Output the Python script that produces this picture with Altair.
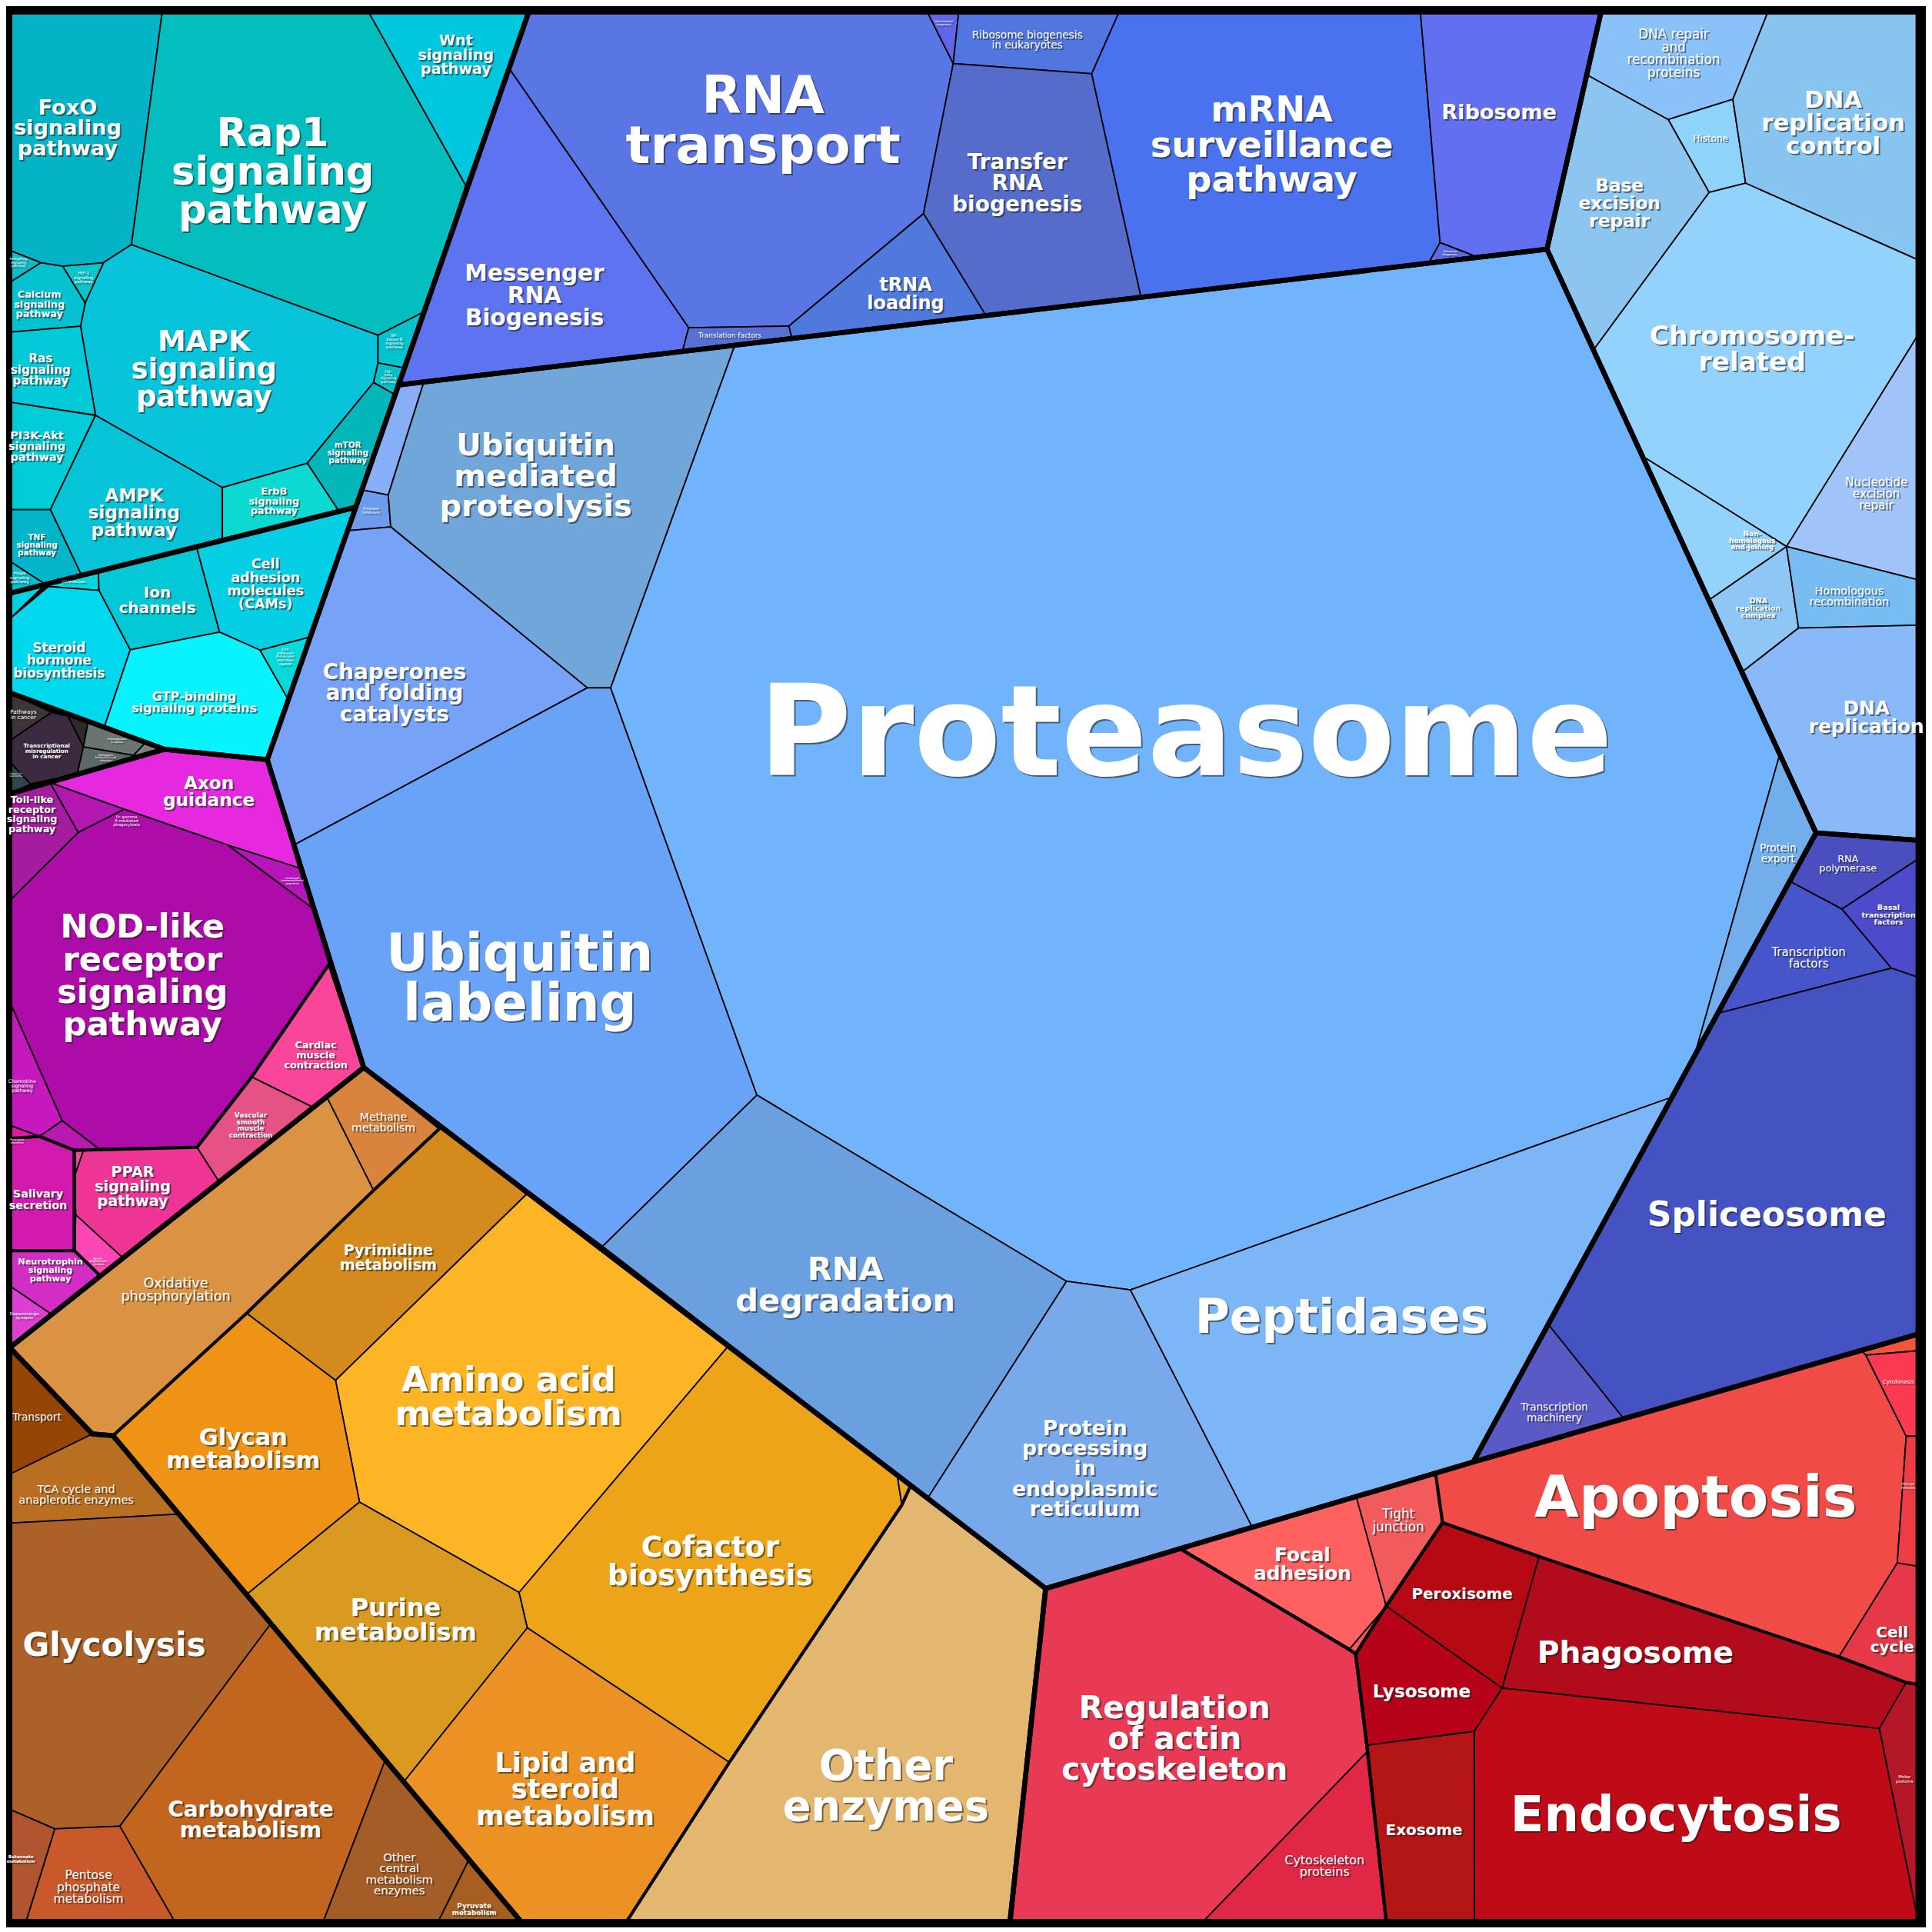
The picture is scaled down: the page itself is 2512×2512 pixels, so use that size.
import altair as alt
import pandas as pd

# ---------------- domain (reference picture coordinates, 1568-px view) ----------------
DOM = [5, 1563]
PX = 2496
S = PX / (DOM[1] - DOM[0])

# ---------------- cells: (name, polygon vertices) ----------------
GREEN_UPPER = [
    ("FoxO signaling pathway", [(8,7),(132,7),(107,196.3),(84.2,211),(50.9,213.8),(33.4,211),(8,201)]),
    ("Rap1 signaling pathway", [(132,7),(300,7),(379,148),(345,251),(307.6,270),(107,196.3)]),
    ("Wnt signaling pathway", [(300,7),(430.3,7),(379,148)]),
    ("MAPK signaling pathway", [(84.2,211),(107,196.3),(307.6,270),(307.6,292.6),(304,308.5),(250,374.2),(181,394),(77.7,335.2),(65.6,262.7),(69.3,243.6)]),
    ("NF-kappa B signaling pathway", [(307.6,270),(345,251),(329,296.6),(307.6,292.6)]),
    ("TGF-beta signaling pathway", [(307.6,292.6),(329,296.6),(321.7,318.5),(304,308.5)]),
    ("mTOR signaling pathway", [(304,308.5),(321.7,318.5),(289.5,410),(275.6,413),(250,374.2)]),
    ("HIF-1 signaling pathway", [(50.9,213.8),(84.2,211),(69.3,243.6)]),
    ("Hedgehog signaling pathway", [(8,201),(33.4,211),(8,227)]),
    ("Calcium signaling pathway", [(8,227),(33.4,211),(50.9,213.8),(69.3,243.6),(65.6,262.7),(8,267.5)]),
    ("Ras signaling pathway", [(8,267.5),(65.6,262.7),(77.7,335.2),(8,324.5)]),
    ("PI3K-Akt signaling pathway", [(8,324.5),(77.7,335.2),(41,412),(8,412)]),
    ("AMPK signaling pathway", [(77.7,335.2),(181,394),(181,436.9),(66.4,465.5),(41,412)]),
    ("ErbB signaling pathway", [(181,394),(250,374.2),(275.6,413),(181,436.9)]),
    ("TNF signaling pathway", [(8,412),(41,412),(66.4,465.5),(36.8,472.8),(8,454)]),
    ("Hippo signaling pathway", [(8,454),(36.8,472.8),(8,480)]),
]
GREEN_LOWER = [
    ("Green small", [(8,480),(37,472.8),(8,500.8)]),
    ("CD Molecules", [(37,472.8),(80,462.1),(80.6,477.7),(39.6,474.5)]),
    ("Steroid hormone biosynthesis", [(8,500.8),(39.6,474.5),(80.6,477.7),(106,526),(85.2,588),(8,561)]),
    ("Ion channels", [(80,462.1),(159.7,441.5),(178.7,511.6),(106,526),(80.6,477.7)]),
    ("Cell adhesion molecules (CAMs)", [(159.7,441.5),(289.5,410),(252.8,515.5),(211.5,526.3),(178.7,511.6)]),
    ("CAM ligands", [(211.5,526.3),(252.8,515.5),(234.8,567)]),
    ("GTP-binding signaling proteins", [(106,526),(178.7,511.6),(211.5,526.3),(234.8,567),(217.5,615.5),(134,607),(85.2,588)]),
]
GRAY = [
    ("Pathways in cancer", [(8,561),(42,577),(8,600)]),
    ("Transcriptional misregulation in cancer", [(8,600),(42,577),(55.5,580),(67.9,605),(62.9,627),(24.7,635.3),(8,617.4)]),
    ("Viral carcinogenesis", [(55.5,580),(71.6,585.5),(67.9,605)]),
    ("Proteoglycans in cancer", [(71.6,585.5),(118,602),(108.6,612),(67.9,605)]),
    ("Pathogenic E. coli infection", [(67.9,605),(108.6,612),(122,610.4),(62.9,627)]),
    ("Chemical carcinogenesis", [(108.6,612),(118,602),(134,607),(122,610.4)]),
    ("Basal cell carcinoma", [(8,617.4),(24.7,635.3),(8,643)]),
]
MAGENTA = [
    ("Toll-like receptor signaling pathway", [(8,643.2),(40.7,634),(63.7,674.7),(8,730.3)]),
    ("Fc gamma R-mediated phagocytosis", [(40.7,634),(101.2,655.7),(63.7,674.7)]),
    ("Axon guidance", [(40.7,634),(134,607),(217.5,615.5),(243.1,703.4),(185.1,684.8),(101.2,655.7)]),
    ("Leukocyte transendothelial migration", [(185.1,684.8),(243.1,703.4),(254.2,736.3)]),
    ("NOD-like receptor signaling pathway", [(63.7,674.7),(101.2,655.7),(185.1,684.8),(254.2,736.3),(267.8,782),(204.9,873.6),(160.4,930.9),(80.2,932),(50.6,909.4),(8,812.7),(8,730.3)]),
    ("Chemokine signaling pathway", [(8,812.7),(50.6,909.4),(32.1,922),(8,913)]),
    ("Pancreatic secretion", [(8,913),(32.1,922),(8,923.8)]),
    ("NK cell mediated cytotoxicity", [(32.1,922),(50.6,909.4),(80.2,932),(60.5,933.4)]),
    ("Salivary secretion", [(8,923.8),(32.1,922),(60.5,933.4),(60.5,1015),(8,1015)]),
    ("Magenta small", [(60.5,933.4),(68,933.2),(60.5,955)]),
    ("PPAR signaling pathway", [(68,933.2),(80.2,932),(160.4,930.9),(177.7,958),(100,1021),(61.7,986),(60.5,955)]),
    ("Renin-angiotensin system", [(61.7,986),(100,1021),(81.5,1035.5),(60.5,1015)]),
    ("Vascular smooth muscle contraction", [(160.4,930.9),(204.9,873.6),(254.2,898),(177.7,958)]),
    ("Cardiac muscle contraction", [(204.9,873.6),(267.8,782),(296,866),(254.2,898)]),
    ("Neurotrophin signaling pathway", [(8,1015),(60.5,1015),(81.5,1035.5),(42,1067),(8,1043.8)]),
    ("Dopaminergic synapse", [(8,1043.8),(42,1067),(8,1094)]),
]
ORANGE = [
    ("Methane metabolism", [(266.4,891),(296,866),(358,915.5),(304,966)]),
    ("Oxidative phosphorylation", [(8,1094),(266.4,891),(304,966),(200.7,1066),(92,1165.6),(75.2,1164.3)]),
    ("Pyrimidine metabolism", [(304,966),(358,915.5),(429.2,968.5),(273.1,1120.6),(200.7,1066)]),
    ("Amino acid metabolism", [(429.2,968.5),(592.5,1093),(422.5,1293.2),(292.6,1219.7),(273.1,1120.6)]),
    ("Glycan metabolism", [(92,1165.6),(200.7,1066),(273.1,1120.6),(292.6,1219.7),(201.8,1294)]),
    ("Purine metabolism", [(292.6,1219.7),(422.5,1293.2),(429.2,1322),(328.9,1447),(201.8,1294)]),
    ("Cofactor biosynthesis", [(592.5,1093),(730.2,1197.6),(734,1222),(593.6,1431.5),(429.2,1322),(422.5,1293.2)]),
    ("Orange small", [(730.2,1197.6),(741.3,1206),(734,1222)]),
    ("Other enzymes", [(741.3,1206),(851,1290),(822,1561),(510,1561),(593.6,1431.5),(734,1222)]),
    ("Lipid and steroid metabolism", [(429.2,1322),(593.6,1431.5),(510,1561),(424,1561),(328.9,1447)]),
]
BROWN = [
    ("Transport", [(8,1094),(75.2,1164.3),(8,1197)]),
    ("TCA cycle and anaplerotic enzymes", [(75.2,1164.3),(92,1165.6),(146,1229.5),(8,1236.8),(8,1197)]),
    ("Glycolysis", [(8,1236.8),(146,1229.5),(220.2,1318.9),(97.5,1483.4),(44.6,1485.6),(8,1469.8)]),
    ("Carbohydrate metabolism", [(220.2,1318.9),(313.3,1430.2),(263.1,1561),(142.1,1561),(97.5,1483.4)]),
    ("Other central metabolism enzymes", [(313.3,1430.2),(381.8,1510.4),(356.7,1561),(263.1,1561)]),
    ("Pyruvate metabolism", [(381.8,1510.4),(424,1561),(356.7,1561)]),
    ("Pentose phosphate metabolism", [(44.6,1485.6),(97.5,1483.4),(142.1,1561),(21.2,1561)]),
    ("Butanoate metabolism", [(8,1469.8),(44.6,1485.6),(21.2,1561),(8,1561)]),
]
PROTEO = [
    ("Ubiquitin system", [(324.5,310.5),(344.9,308.2),(316,400),(295,396)]),
    ("Protease inhibitors", [(295,396),(316,400),(318,426),(284,429)]),
    ("Ubiquitin mediated proteolysis", [(344.9,308.2),(598,278.3),(497,557),(478,557),(318,426),(316,400)]),
    ("Chaperones and folding catalysts", [(284,429),(318,426),(478,557),(239,685),(217.5,615.5)]),
    ("Ubiquitin labeling", [(239,685),(478,557),(497,557),(616,888.4),(490.5,1011.5),(296,866)]),
    ("Proteasome", [(598,278.3),(1259,200),(1448.5,611),(1378.5,858.7),(1361.5,889.8),(920,1047),(868,1040),(616,888.4),(497,557)]),
    ("Protein export", [(1448.5,611),(1478,675),(1378.5,858.7)]),
    ("RNA degradation", [(616,888.4),(868,1040),(755.3,1216),(490.5,1011.5)]),
    ("Protein processing in endoplasmic reticulum", [(868,1040),(920,1047),(1019.3,1240.2),(851,1290),(755.3,1216)]),
    ("Peptidases", [(920,1047),(1361.5,889.8),(1199,1187),(1019.3,1240.2)]),
]
RNA = [
    ("Messenger RNA Biogenesis", [(415,53.7),(560.5,263.9),(555.4,283.3),(324.5,310.5)]),
    ("RNA transport", [(430.3,7),(754.7,7),(775.8,48.9),(751.6,171),(642,262.6),(560.5,263.9),(415,53.7)]),
    ("Mitochondrial biogenesis", [(754.7,7),(780.2,7),(775.8,48.9)]),
    ("Ribosome biogenesis in eukaryotes", [(780.2,7),(910.8,7),(888.5,57.2),(775.8,48.9)]),
    ("Transfer RNA biogenesis", [(775.8,48.9),(888.5,57.2),(928.7,239.3),(802.5,254.2),(751.6,171)]),
    ("tRNA loading", [(751.6,171),(802.5,254.2),(644.5,272.6),(642,262.6)]),
    ("Translation factors", [(560.5,263.9),(642,262.6),(644.5,272.6),(555.4,283.3)]),
    ("mRNA surveillance pathway", [(910.8,7),(1156,7),(1172,194.6),(1162.4,211.8),(928.7,239.3),(888.5,57.2)]),
    ("Ribosome", [(1156,7),(1303,7),(1259,200),(1203.8,206.9),(1172,194.6)]),
    ("Ribosome biogenesis", [(1172,194.6),(1203.8,206.9),(1162.4,211.8)]),
]
DNA = [
    ("DNA repair and recombination proteins", [(1303,7),(1438.8,7),(1410.3,78),(1357.7,94.5),(1291.4,58)]),
    ("Histone", [(1357.7,94.5),(1410.3,78),(1420.7,146.3),(1391,153.8)]),
    ("DNA replication control", [(1438.8,7),(1561,7),(1561,208.7),(1420.7,146.3),(1410.3,78)]),
    ("Base excision repair", [(1291.4,58),(1357.7,94.5),(1391,153.8),(1297,281.8),(1259,200)]),
    ("Chromosome-related", [(1391,153.8),(1420.7,146.3),(1561,208.7),(1561,269.8),(1454,442),(1337.9,369.2),(1297,281.8)]),
    ("Nucleotide excision repair", [(1561,269.8),(1561,469.1),(1454,442)]),
    ("Non-homologous end-joining", [(1337.9,369.2),(1454,442),(1391.5,485.1)]),
    ("DNA replication complex", [(1391.5,485.1),(1454,442),(1463.8,508.3),(1418,544)]),
    ("Homologous recombination", [(1454,442),(1561,469.1),(1561,506),(1463.8,508.3)]),
    ("DNA replication", [(1418,544),(1463.8,508.3),(1561,506),(1561,681),(1478,675)]),
]
TRANSCRIPTION = [
    ("RNA polymerase", [(1478,675),(1561,681),(1561,696.3),(1499,737),(1456.5,714.4)]),
    ("Basal transcription factors", [(1499,737),(1561,696.3),(1561,792.5),(1539.2,785.1)]),
    ("Transcription factors", [(1456.5,714.4),(1499,737),(1539.2,785.1),(1398,822)]),
    ("Spliceosome", [(1398,822),(1539.2,785.1),(1561,792.5),(1561,1083),(1321.2,1151.4),(1260,1075)]),
    ("Transcription machinery", [(1260,1075),(1321.2,1151.4),(1199,1187)]),
]
RED = [
    ("Regulation of actin cytoskeleton", [(851,1290),(960.5,1257.6),(1098.1,1339.6),(1103.3,1343.3),(1112.5,1423),(979.2,1561),(822,1561)]),
    ("Cytoskeleton proteins", [(1112.5,1423),(1128.2,1561),(979.2,1561)]),
    ("Focal adhesion", [(960.5,1257.6),(1103.8,1215.2),(1128.2,1304.3),(1098.1,1339.6)]),
    ("Red small", [(1098.1,1339.6),(1128.2,1304.3),(1103.3,1343.3)]),
    ("Tight junction", [(1103.8,1215.2),(1168.3,1196),(1174,1236.4),(1128.2,1304.3)]),
    ("Apoptosis", [(1168.3,1196),(1515,1096.2),(1518.5,1100),(1551.4,1166.1),(1544.1,1269.2),(1496.6,1345.6),(1252.5,1264),(1174,1236.4)]),
    ("Gap junction", [(1515,1096.2),(1561,1083),(1561,1096.5),(1518.5,1100)]),
    ("Cytokinesis", [(1518.5,1100),(1561,1096.5),(1561,1166.1),(1551.4,1166.1)]),
    ("Oocyte meiosis", [(1551.4,1166.1),(1561,1166.1),(1561,1272),(1544.1,1269.2)]),
    ("Cell cycle", [(1544.1,1269.2),(1561,1272),(1561,1368.2),(1551.4,1366.5),(1496.6,1345.6)]),
    ("Phagosome", [(1252.5,1264),(1496.6,1345.6),(1551.4,1366.5),(1529.5,1403.9),(1222.5,1371)]),
    ("Motor proteins", [(1529.5,1403.9),(1551.4,1366.5),(1561,1368.2),(1561,1561)]),
    ("Endocytosis", [(1222.5,1371),(1529.5,1403.9),(1561,1561),(1200,1561),(1199.8,1406.2)]),
    ("Exosome", [(1112.4,1417.5),(1199.8,1406.2),(1200,1561),(1128.2,1561)]),
    ("Lysosome", [(1128.2,1304.3),(1222.5,1371),(1199.8,1406.2),(1112.4,1417.5),(1103.3,1343.3)]),
    ("Peroxisome", [(1174,1236.4),(1252.5,1264),(1222.5,1371),(1128.2,1304.3)]),
]

CELL_COLORS = {
    "FoxO signaling pathway": "#04B3C5", "Rap1 signaling pathway": "#03BDBF", "Wnt signaling pathway": "#00C7DD",
    "MAPK signaling pathway": "#07C4DB", "NF-kappa B signaling pathway": "#04C3CF", "TGF-beta signaling pathway": "#05BFC9",
    "mTOR signaling pathway": "#03B6BA", "HIF-1 signaling pathway": "#07C5CB", "Hedgehog signaling pathway": "#0ABFCB",
    "Calcium signaling pathway": "#05C2D0", "Ras signaling pathway": "#02CAD8", "PI3K-Akt signaling pathway": "#03CCD9",
    "AMPK signaling pathway": "#06C3D7", "ErbB signaling pathway": "#0CDAD2", "TNF signaling pathway": "#03B5C9",
    "Hippo signaling pathway": "#03C0CC",
    "Green small": "#04D0E0", "CD Molecules": "#07D5E0", "Steroid hormone biosynthesis": "#00D8EE", "Ion channels": "#04C8D5",
    "Cell adhesion molecules (CAMs)": "#04CFE4", "CAM ligands": "#06D9DA", "GTP-binding signaling proteins": "#07F3FE",
    "Pathways in cancer": "#3D3539", "Transcriptional misregulation in cancer": "#3B2A40", "Viral carcinogenesis": "#2E2A2A",
    "Proteoglycans in cancer": "#6A7471", "Pathogenic E. coli infection": "#5C6868", "Chemical carcinogenesis": "#7D817C",
    "Basal cell carcinoma": "#2F4549",
    "Toll-like receptor signaling pathway": "#A61C9E", "Fc gamma R-mediated phagocytosis": "#B217AF", "Axon guidance": "#E628DF",
    "Leukocyte transendothelial migration": "#B615BA", "NOD-like receptor signaling pathway": "#AE0CA9",
    "Chemokine signaling pathway": "#C519BD", "Pancreatic secretion": "#E0179F", "NK cell mediated cytotoxicity": "#B81AAE",
    "Salivary secretion": "#D31AAE", "Magenta small": "#F04AA0", "PPAR signaling pathway": "#EE3494",
    "Renin-angiotensin system": "#FB46B5", "Vascular smooth muscle contraction": "#E65285", "Cardiac muscle contraction": "#F9469A",
    "Neurotrophin signaling pathway": "#D22EC5", "Dopaminergic synapse": "#DC40D2",
    "Methane metabolism": "#D8843F", "Oxidative phosphorylation": "#DA9243", "Pyrimidine metabolism": "#D48A1D",
    "Amino acid metabolism": "#FDB526", "Glycan metabolism": "#EF9317", "Purine metabolism": "#DA9A22",
    "Cofactor biosynthesis": "#EEA418", "Orange small": "#E7A530", "Other enzymes": "#E4B770",
    "Lipid and steroid metabolism": "#EC9224",
    "Transport": "#954607", "TCA cycle and anaplerotic enzymes": "#B86F22", "Glycolysis": "#AB6127",
    "Carbohydrate metabolism": "#C2661F", "Other central metabolism enzymes": "#A45D27", "Pyruvate metabolism": "#A65F20",
    "Pentose phosphate metabolism": "#C9582B", "Butanoate metabolism": "#B05530",
    "Ubiquitin system": "#87AFF8", "Protease inhibitors": "#6D9CEC", "Ubiquitin mediated proteolysis": "#70A6DA",
    "Chaperones and folding catalysts": "#76A3F8", "Ubiquitin labeling": "#68A3F7", "Proteasome": "#71B4FC",
    "Protein export": "#71AEEB", "RNA degradation": "#6AA0E0", "Protein processing in endoplasmic reticulum": "#78A9EB",
    "Peptidases": "#7CB6F6",
    "Messenger RNA Biogenesis": "#5D73F0", "RNA transport": "#5A75E4", "Mitochondrial biogenesis": "#5D67E8",
    "Ribosome biogenesis in eukaryotes": "#5176E0", "Transfer RNA biogenesis": "#556CCA", "tRNA loading": "#4F79DC",
    "Translation factors": "#5670D3", "mRNA surveillance pathway": "#4A72EE", "Ribosome": "#616FF0",
    "Ribosome biogenesis": "#5A6AE0",
    "DNA repair and recombination proteins": "#8AC1F8", "Histone": "#8ED3F9", "DNA replication control": "#87C4EF",
    "Base excision repair": "#8CC6F0", "Chromosome-related": "#93D2FC", "Nucleotide excision repair": "#A0C4F9",
    "Non-homologous end-joining": "#93D3FB", "DNA replication complex": "#8EC7F6", "Homologous recombination": "#78BCF4",
    "DNA replication": "#8AB9F9",
    "RNA polymerase": "#4A4EBE", "Basal transcription factors": "#4E4ACC", "Transcription factors": "#4655CA",
    "Spliceosome": "#4553C2", "Transcription machinery": "#5A5AC7",
    "Regulation of actin cytoskeleton": "#E83A55", "Cytoskeleton proteins": "#E02746", "Focal adhesion": "#FF6160",
    "Red small": "#EF5A5A", "Tight junction": "#F15B5B", "Apoptosis": "#F04B46", "Gap junction": "#F5533C",
    "Cytokinesis": "#FB3951", "Oocyte meiosis": "#EE3C47", "Cell cycle": "#E53848", "Phagosome": "#B20B1B",
    "Motor proteins": "#B41828", "Endocytosis": "#BF0A17", "Exosome": "#B41616", "Lysosome": "#B70319",
    "Peroxisome": "#B50A14",
}

# ---------------- group outlines ----------------
LEVEL1 = [
    [(8,7),(430.3,7),(289.5,410),(8,480)],
    [(8,480),(289.5,410),(217.5,615.5),(134,607),(8,561)],
    [(8,561),(134,607),(8,643.2)],
    [(8,643.2),(134,607),(217.5,615.5),(296,866),(8,1094)],
    [(8,1094),(296,866),(851,1290),(822,1561),(424,1561),(92,1165.6),(75.2,1164.3)],
    [(8,1094),(75.2,1164.3),(92,1165.6),(424,1561),(8,1561)],
    [(324.5,310.5),(1259,200),(1478,675),(1199,1187),(851,1290),(296,866),(217.5,615.5)],
    [(430.3,7),(1303,7),(1259,200),(324.5,310.5)],
    [(1303,7),(1561,7),(1561,681),(1478,675),(1259,200)],
    [(1478,675),(1561,681),(1561,1083),(1199,1187)],
    [(851,1290),(1199,1187),(1561,1083),(1561,1561),(822,1561)],
]
LEVEL2 = [
    [(60.5,933.4),(160.4,930.9),(204.9,873.6),(267.8,782),(296,866),(81.5,1035.5),(60.5,1015)],
    [(8,923.8),(32.1,922),(60.5,933.4),(60.5,1015),(8,1015)],
    [(8,1094),(296,866),(358,915.5),(304,966),(200.7,1066),(92,1165.6),(75.2,1164.3)],
    [(741.3,1206),(851,1290),(822,1561),(510,1561),(593.6,1431.5),(734,1222)],
    [(851,1290),(960.5,1257.6),(1098.1,1339.6),(1103.3,1343.3),(1112.4,1417.5),(1128.2,1561),(822,1561)],
    [(960.5,1257.6),(1103.8,1215.2),(1168.3,1196),(1174,1236.4),(1128.2,1304.3),(1103.3,1343.3),(1098.1,1339.6)],
    [(1128.2,1304.3),(1174,1236.4),(1252.5,1264),(1496.6,1345.6),(1551.4,1366.5),(1561,1368.2),(1561,1561),(1128.2,1561),(1112.4,1417.5),(1103.3,1343.3)],
]

# ---------------- labels: (text, centre x, centre y, font size, bold) ----------------
LABELS = [
    ("FoxO\nsignaling\npathway", 55, 102, 17, True),
    ("Rap1\nsignaling\npathway", 222, 138, 32, True),
    ("Wnt\nsignaling\npathway", 371, 42, 12, True),
    ("MAPK\nsignaling\npathway", 166, 298, 23, True),
    ("Calcium\nsignaling\npathway", 32, 245, 8, True),
    ("Ras\nsignaling\npathway", 33, 298, 9.5, True),
    ("PI3K-Akt\nsignaling\npathway", 30, 361, 9, True),
    ("AMPK\nsignaling\npathway", 109, 415, 14.5, True),
    ("ErbB\nsignaling\npathway", 223, 405, 8, True),
    ("mTOR\nsignaling\npathway", 283, 366, 6.5, True),
    ("TNF\nsignaling\npathway", 30, 441, 6.5, True),
    ("Hippo\nsignaling\npathway", 16, 467, 3.5, False),
    ("HIF-1\nsignaling\npathway", 68, 223, 3.5, False),
    ("Hedgehog\nsignaling\npathway", 15, 211, 2.8, False),
    ("NF-\nkappa B\nsignaling\npathway", 321, 275, 3.2, False),
    ("TGF-\nbeta\nsignaling\npathway", 316, 304, 2.8, False),
    ("Ion\nchannels", 128, 486, 12.5, True),
    ("Cell\nadhesion\nmolecules\n(CAMs)", 216, 473, 11, True),
    ("Steroid\nhormone\nbiosynthesis", 48, 535, 10.5, True),
    ("GTP-binding\nsignaling proteins", 158, 569, 10, True),
    ("Cell\nadhesion\nmolecules\nand their\nligands", 232, 532, 3, False),
    ("CD Molecules", 60, 471, 2.8, False),
    ("Pathways\nin cancer", 19, 579, 4.5, False),
    ("Transcriptional\nmisregulation\nin cancer", 38, 609, 4.5, True),
    ("Proteoglycans\nin cancer", 95, 600, 2.2, False),
    ("Pathogenic\nEscherichia coli\ninfection", 86, 614, 2.2, False),
    ("Basal cell\ncarcinoma", 13, 628, 2, False),
    ("Axon\nguidance", 170, 642, 14.5, True),
    ("Toll-like\nreceptor\nsignaling\npathway", 26, 660, 8, True),
    ("Fc gamma\nR-mediated\nphagocytosis", 103, 665, 3.3, False),
    ("Leukocyte\ntransendothelial\nmigration", 238, 714, 2.3, False),
    ("NOD-like\nreceptor\nsignaling\npathway", 116, 792, 27, True),
    ("Chemokine\nsignaling\npathway", 18, 881, 4, False),
    ("Pancreatic\nsecretion", 14, 926, 2.3, False),
    ("Salivary\nsecretion", 31, 974, 9, True),
    ("PPAR\nsignaling\npathway", 108, 963, 12, True),
    ("Renin-\nangiotensin\nsystem", 80, 1024, 2.5, False),
    ("Vascular\nsmooth\nmuscle\ncontraction", 204, 913, 5.5, True),
    ("Cardiac\nmuscle\ncontraction", 257, 856, 8, True),
    ("Neurotrophin\nsignaling\npathway", 41, 1031, 7, True),
    ("Dopaminergic\nsynapse", 20, 1068, 3.5, False),
    ("Methane\nmetabolism", 312, 911, 8.8, False),
    ("Oxidative\nphosphorylation", 143, 1047, 11, False),
    ("Pyrimidine\nmetabolism", 316, 1021, 12, True),
    ("Amino acid\nmetabolism", 414, 1135, 28, True),
    ("Glycan\nmetabolism", 198, 1177, 19, True),
    ("Purine\nmetabolism", 322, 1316, 20, True),
    ("Cofactor\nbiosynthesis", 578, 1269, 23.5, True),
    ("Lipid and\nsteroid\nmetabolism", 460, 1454, 22, True),
    ("Other\nenzymes", 721, 1452, 34, True),
    ("Transport", 30, 1151, 8.5, False),
    ("TCA cycle and\nanaplerotic enzymes", 62, 1214, 9, False),
    ("Glycolysis", 93, 1337, 26.5, True),
    ("Carbohydrate\nmetabolism", 204, 1479, 17.5, True),
    ("Pentose\nphosphate\nmetabolism", 72, 1533, 9.7, False),
    ("Other\ncentral\nmetabolism\nenzymes", 325, 1523, 9.3, False),
    ("Pyruvate\nmetabolism", 386, 1551, 5.5, True),
    ("Butanoate\nmetabolism", 17, 1510, 3.5, True),
    ("Proteasome", 965, 597, 103, True),
    ("Ubiquitin\nmediated\nproteolysis", 436, 385, 25, True),
    ("Chaperones\nand folding\ncatalysts", 321, 562, 17.5, True),
    ("Ubiquitin\nlabeling", 423, 795, 42, True),
    ("RNA\ndegradation", 688, 1044, 26, True),
    ("Protein\nprocessing\nin\nendoplasmic\nreticulum", 883, 1193, 16.7, True),
    ("Peptidases", 1092, 1070, 38.5, True),
    ("Protein\nexport", 1447, 692, 8.5, False),
    ("Protease\ninhibitors", 302, 413, 3, False),
    ("RNA\ntransport", 621, 97, 42, True),
    ("Messenger\nRNA\nBiogenesis", 435, 238, 18.5, True),
    ("Transfer\nRNA\nbiogenesis", 828, 147, 17.5, True),
    ("tRNA\nloading", 737, 237, 15, True),
    ("mRNA\nsurveillance\npathway", 1035, 116, 29, True),
    ("Ribosome", 1220, 89, 17, True),
    ("Ribosome biogenesis\nin eukaryotes", 836, 30, 8.5, False),
    ("Translation factors", 594, 270, 5.6, False),
    ("Mitochondrial\nbiogenesis", 768, 16, 2.2, False),
    ("Ribosome\nbiogenesis", 1180, 203, 2.2, False),
    ("DNA repair\nand\nrecombination\nproteins", 1362, 41, 10.5, False),
    ("Histone", 1392, 110, 7.5, False),
    ("DNA\nreplication\ncontrol", 1492, 98, 19.3, True),
    ("Base\nexcision\nrepair", 1318, 163, 14.5, True),
    ("Chromosome-\nrelated", 1426, 282, 21.5, True),
    ("Nucleotide\nexcision\nrepair", 1527, 399, 9.5, False),
    ("Non-\nhomologous\nend-joining", 1426, 437, 5.5, True),
    ("DNA\nreplication\ncomplex", 1431, 492, 6, True),
    ("Homologous\nrecombination", 1505, 483, 9, False),
    ("DNA\nreplication", 1519, 582, 15.5, True),
    ("RNA\npolymerase", 1504, 700, 8, False),
    ("Basal\ntranscription\nfactors", 1537, 742, 6, True),
    ("Transcription\nfactors", 1472, 777, 9.4, False),
    ("Spliceosome", 1438, 987, 27.5, True),
    ("Transcription\nmachinery", 1265, 1147, 8.5, False),
    ("Apoptosis", 1380, 1217, 47, True),
    ("Endocytosis", 1364, 1476, 40, True),
    ("Phagosome", 1331, 1343, 24.5, True),
    ("Peroxisome", 1190, 1295, 12.5, True),
    ("Lysosome", 1157, 1374, 14.5, True),
    ("Exosome", 1159, 1487, 12.5, True),
    ("Focal\nadhesion", 1060, 1271, 15.5, True),
    ("Tight\njunction", 1138, 1235, 10.5, False),
    ("Regulation\nof actin\ncytoskeleton", 956, 1413, 25.5, True),
    ("Cytoskeleton\nproteins", 1078, 1516, 10, False),
    ("Cell\ncycle", 1540, 1332, 12.5, True),
    ("Cytokinesis", 1545, 1122, 4.5, False),
    ("Oocyte\nmeiosis", 1553, 1207, 3, False),
    ("Motor\nproteins", 1550, 1445, 3.5, False),
]

# ---------------- build tables ----------------
ALL_CELLS = GREEN_UPPER + GREEN_LOWER + GRAY + MAGENTA + ORANGE + BROWN + PROTEO + RNA + DNA + TRANSCRIPTION + RED

rows = []
for name, poly in ALL_CELLS:
    pts = list(poly) + [poly[0]]
    for i, (x, y) in enumerate(pts):
        rows.append({"cell": name, "i": i, "x": x, "y": y, "fill": CELL_COLORS[name]})
cells_df = pd.DataFrame(rows)


def outline_df(polys, tag):
    r = []
    for k, poly in enumerate(polys):
        pts = list(poly) + [poly[0]]
        for i, (x, y) in enumerate(pts):
            r.append({"g": f"{tag}{k}", "i": i, "x": x, "y": y})
    return pd.DataFrame(r)


l1_df = outline_df(LEVEL1, "a")
l2_df = outline_df(LEVEL2, "b")

lrows = []
for text, cx, cy, fs, bold in LABELS:
    lines = text.split("\n")
    n = len(lines)
    for k, ln in enumerate(lines):
        lrows.append({"line": ln, "x": cx, "y": cy + (k - (n - 1) / 2) * fs * 0.98,
                      "fs": fs * S, "bold": bold})
lab_df = pd.DataFrame(lrows)

X = alt.X("x:Q", scale=alt.Scale(domain=DOM, nice=False, zero=False), axis=None)
Y = alt.Y("y:Q", scale=alt.Scale(domain=DOM, nice=False, zero=False, reverse=True), axis=None)

cells = alt.Chart(cells_df).mark_line(
    filled=True, stroke="black", strokeWidth=1.8, strokeJoin="round", interpolate="linear"
).encode(x=X, y=Y, detail="cell:N", order="i:Q", color=alt.Color("fill:N", scale=None))

out2 = alt.Chart(l2_df).mark_line(strokeWidth=4.2, strokeJoin="round", strokeCap="round").encode(
    x=X, y=Y, detail="g:N", order="i:Q", color=alt.value("black"))
out1 = alt.Chart(l1_df).mark_line(strokeWidth=6.5, strokeJoin="round", strokeCap="round").encode(
    x=X, y=Y, detail="g:N", order="i:Q", color=alt.value("black"))


def text_layers(bold):
    d = lab_df[lab_df["bold"] == bold]
    w = "bold" if bold else "normal"
    sh = alt.Chart(d).mark_text(font="DejaVu Sans", fontWeight=w, align="center", baseline="middle",
                                dx=2, dy=2, color="#1a1a1a", opacity=0.55).encode(
        x=X, y=Y, text="line:N", size=alt.Size("fs:Q", scale=None))
    fg = alt.Chart(d).mark_text(font="DejaVu Sans", fontWeight=w, align="center", baseline="middle",
                                color="white").encode(
        x=X, y=Y, text="line:N", size=alt.Size("fs:Q", scale=None))
    return [sh, fg]


chart = alt.layer(cells, out2, out1, *text_layers(True), *text_layers(False)).properties(
    width=PX, height=PX, padding=0, background="black"
).configure_view(strokeWidth=0)

chart.save("out.html", embed_options={"renderer": "svg", "actions": False})
